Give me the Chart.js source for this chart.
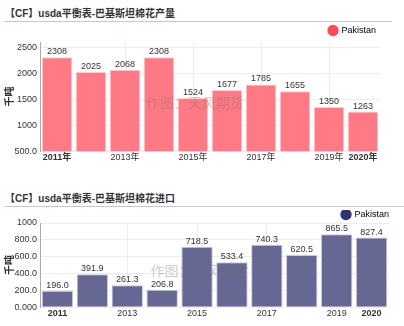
<!DOCTYPE html>
<html lang="zh">
  <head>
    <meta charset="UTF-8" />
    <title>Pakistan cotton</title>
    <script src="https://cdn.jsdelivr.net/npm/chart.js"></script>
    <style>
      body { margin: 0; width: 404px; height: 326px; position: relative; background: #fff; overflow: hidden;
        font-family: "Liberation Sans", "Noto Sans CJK SC", sans-serif; }
      .title { position: absolute; left: 5px; font-size: 10px; font-weight: bold; color: #333; white-space: nowrap; }
      .rule { position: absolute; left: 4px; height: 1px; background: #c8c8c8; }
      .box { position: absolute; left: 0; width: 404px; }
    </style>
  </head>
  <body>
    <div class="title" style="top: 5px">【CF】usda平衡表-巴基斯坦棉花产量</div>
    <div class="rule" style="top: 21px; width: 388px"></div>
    <div class="box" style="top: 22px; height: 142px"><canvas id="prodChart"></canvas></div>

    <div class="title" style="top: 190px">【CF】usda平衡表-巴基斯坦棉花进口</div>
    <div class="rule" style="top: 206px; width: 400px"></div>
    <div class="box" style="top: 210px; height: 110px"><canvas id="importChart"></canvas></div>

    <script>
      const years = ["2011", "2012", "2013", "2014", "2015", "2016", "2017", "2018", "2019", "2020"];
      const shownYears = [0, 2, 4, 6, 8, 9];
      const gridYears = [2, 4, 6, 8];
      const production = [2308, 2025, 2068, 2308, 1524, 1677, 1785, 1655, 1350, 1263];
      const imports = [196.0, 391.9, 261.3, 206.8, 718.5, 533.4, 740.3, 620.5, 865.5, 827.4];
      const prodTicks = [500, 1000, 1500, 2000, 2500];
      const importTicks = [0, 200, 400, 600, 800, 1000];

      Chart.defaults.font.family = '"Liberation Sans", "Noto Sans CJK SC", sans-serif';
      Chart.defaults.color = "#333";

      const extras = {
        id: "extras",
        beforeLayout(chart, args, opts) {
          // the legend box keeps 10px of slack; trim it so the plot sits closer
          const lg = chart.legend;
          if (lg && !lg._trimmed) {
            const fit = lg.fit.bind(lg);
            lg.fit = function () {
              fit();
              this.height -= opts.legendTrim;
            };
            lg._trimmed = true;
          }
        },
        afterDatasetsDraw(chart, args, opts) {
          const ctx = chart.ctx;
          const area = chart.chartArea;
          ctx.save();
          // watermark
          ctx.font = '14px "Noto Sans CJK SC", sans-serif';
          ctx.fillStyle = "rgba(110,110,110,0.35)";
          ctx.textAlign = "center";
          ctx.textBaseline = "middle";
          ctx.fillText("作图：天风期货", (area.left + area.right) / 2 - 15, (area.top + area.bottom) / 2 + 6);
          // value labels
          const meta = chart.getDatasetMeta(0);
          ctx.font = '9px "Liberation Sans", sans-serif';
          ctx.fillStyle = "#333";
          ctx.textBaseline = "bottom";
          meta.data.forEach((bar, i) => {
            const v = chart.data.datasets[0].data[i];
            ctx.fillText(opts.fmt(v), bar.x, bar.y - 1);
          });
          ctx.restore();
        },
      };

      function makeChart(id, data, opts) {
        return new Chart(document.getElementById(id), {
          type: "bar",
          data: {
            labels: years,
            datasets: [
              {
                label: "Pakistan",
                data: data,
                backgroundColor: opts.fill,
                borderColor: opts.edge,
                borderWidth: 1,
                categoryPercentage: 0.9,
                barPercentage: 1.0,
              },
            ],
          },
          plugins: [extras],
          options: {
            responsive: true,
            maintainAspectRatio: false,
            animation: false,
            layout: { padding: { left: 4, right: opts.padRight, top: 0, bottom: 0 } },
            plugins: {
              extras: { fmt: opts.fmt, legendTrim: opts.legendTrim },
              tooltip: { enabled: false },
              legend: {
                position: "top",
                align: "end",
                labels: {
                  usePointStyle: true,
                  pointStyle: "circle",
                  boxWidth: 8,
                  boxHeight: 8,
                  padding: opts.legendPad,
                  font: { size: 9 },
                  color: "#333",
                  generateLabels: () => [
                    { text: "Pakistan", fillStyle: opts.dot, strokeStyle: opts.dot, pointStyle: "circle", lineWidth: 0 },
                  ],
                },
              },
            },
            scales: {
              x: {
                grid: {
                  offset: false,
                  drawTicks: false,
                  color: (c) => (c.index !== undefined && gridYears.includes(c.index) ? "#ececec" : "rgba(0,0,0,0)"),
                },
                border: { display: false },
                ticks: {
                  autoSkip: false,
                  maxRotation: 0,
                  padding: 1,
                  color: "#333",
                  font: (c) => ({ size: 9, weight: c.index === 0 || c.index === 9 ? "bold" : "normal" }),
                  callback: (v, i) => (shownYears.includes(i) ? years[i] + opts.suffix : ""),
                },
              },
              y: {
                min: opts.min,
                max: opts.max,
                ticks: {
                  autoSkip: false,
                  padding: 3,
                  color: "#333",
                  font: { size: 9 },
                  callback: (v) => Number(v).toPrecision(4),
                },
                afterBuildTicks: (s) => {
                  s.ticks = opts.ticks.map((v) => ({ value: v }));
                },
                afterFit: (s) => {
                  s.width = 36;
                },
                grid: { color: "#ececec", drawTicks: false },
                border: { display: true, color: "#aaa", width: 1 },
                title: {
                  display: true,
                  text: "千吨",
                  color: "#333",
                  font: { size: 10, weight: "bold" },
                  padding: 0,
                },
              },
            },
          },
        });
      }

      makeChart("prodChart", production, {
        fill: "rgba(255,122,132,1)",
        edge: "rgba(255,205,210,1)",
        dot: "#ff4b5c",
        min: 500,
        max: 2600,
        ticks: prodTicks,
        padRight: 24,
        legendPad: 4,
        legendTrim: 3,
        suffix: "年",
        fmt: (v) => String(v),
      });

      makeChart("importChart", imports, {
        fill: "rgba(102,103,146,1)",
        edge: "rgba(200,200,225,1)",
        dot: "#2f3573",
        min: 0,
        max: 1000,
        ticks: importTicks,
        padRight: 15,
        legendPad: 0,
        legendTrim: 6,
        suffix: "",
        fmt: (v) => v.toFixed(1),
      });
    </script>
  </body>
</html>
